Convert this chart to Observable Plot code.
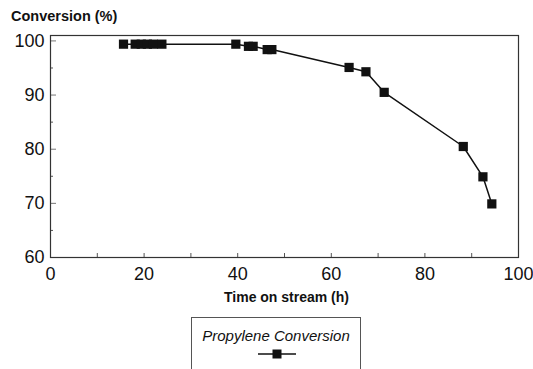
<!DOCTYPE html>
<html>
<head>
<meta charset="utf-8">
<script src="https://cdn.jsdelivr.net/npm/d3@7"></script>
<script src="https://cdn.jsdelivr.net/npm/@observablehq/plot@0.6"></script>
<style>
  html, body { margin: 0; padding: 0; background: #fff; }
  body { width: 533px; height: 369px; overflow: hidden; position: relative; font-family: "Liberation Sans", Arial, sans-serif; }
  #title { height: 24px; box-sizing: border-box; padding: 9px 0 0 11px; line-height: 15px; font-weight: bold; font-size: 14.5px; color: #111; }
  #chart svg { display: block; }
  #legend { position: absolute; left: 191px; top: 317px; width: 170px; height: 80px; border: 1px solid #555; box-sizing: border-box; }
  #legend .lbl { position: absolute; left: 0; right: 0; top: 8px; text-align: center; font-style: italic; font-size: 15px; line-height: 20px; color: #111; }
  #legend svg { position: absolute; left: 65px; top: 30px; }
</style>
</head>
<body>
<div id="title">Conversion (%)</div>
<div id="chart"></div>
<div id="legend"><div class="lbl">Propylene Conversion</div>
<svg width="40" height="12"><line x1="1" y1="6" x2="39" y2="6" stroke="#111" stroke-width="1.5"/><rect x="15.5" y="1.5" width="9" height="9" fill="#111"/></svg></div>
<script>
// Time on stream (h)
const timeOnStream = [15.6, 18.1, 19.4, 20.7, 22.0, 23.8, 39.6, 42.3, 43.3, 46.3, 47.3, 63.8, 67.4, 71.3, 88.2, 92.4, 94.3];
// Propylene conversion (%)
const conversion   = [99.4, 99.4, 99.4, 99.4, 99.4, 99.4, 99.4, 99.0, 99.0, 98.4, 98.4, 95.1, 94.3, 90.5, 80.5, 74.9, 69.9];

const xTicks = [0, 20, 40, 60, 80, 100];
const yTicks = [60, 70, 80, 90, 100];
const xMinorTicks = [10, 20, 30, 40, 50, 60, 70, 80, 90];
const yMajorTicks = [70, 80, 90, 100];
const yMinorTicks = [65, 75, 85, 95];

const data = timeOnStream.map((t, i) => ({t, c: conversion[i]}));

const W = 533, H = 290, mL = 50, mR = 15, mT = 11, mB = 57;
const frameW = W - mL - mR, frameH = H - mT - mB;

const chart = Plot.plot({
  width: W,
  height: H,
  marginLeft: mL,
  marginRight: mR,
  marginTop: mT,
  marginBottom: mB,
  style: {fontFamily: "'Liberation Sans', Arial, sans-serif", fontSize: "18px", color: "#111", background: "#fff"},
  x: {domain: [0, 100], ticks: xTicks, tickSize: 0, tickPadding: 10, label: null},
  y: {domain: [60, 101], ticks: yTicks, tickSize: 0, tickPadding: 6, label: null},
  marks: [
    Plot.ruleX(xMinorTicks, {stroke: "#555", insetTop: frameH - 4}),
    Plot.ruleY(yMajorTicks, {stroke: "#777", insetRight: frameW - 6}),
    Plot.ruleY(yMinorTicks, {stroke: "#555", insetRight: frameW - 3}),
    Plot.frame({stroke: "#333", strokeWidth: 1.2}),
    Plot.line(data, {x: "t", y: "c", stroke: "#111", strokeWidth: 1.5}),
    Plot.dot(data, {x: "t", y: "c", symbol: "square", r: 5.2, fill: "#111", stroke: null}),
    Plot.text(["Time on stream (h)"], {frameAnchor: "bottom", dy: 44, dx: 2, fontWeight: "bold", fontSize: 14, fill: "#111"})
  ]
});
document.getElementById("chart").appendChild(chart);
</script>
</body>
</html>
